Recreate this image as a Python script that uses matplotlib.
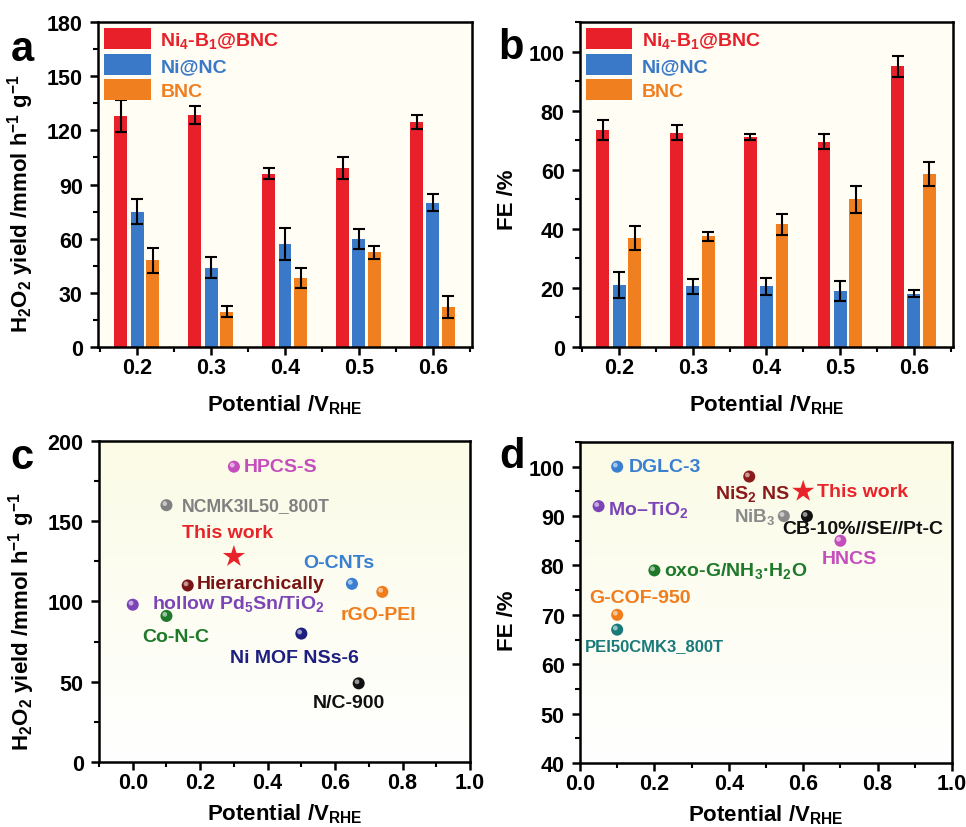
import numpy as np
import matplotlib
matplotlib.use("Agg")
import matplotlib.pyplot as plt
from matplotlib.ticker import MultipleLocator

plt.rcParams['font.family'] = ['Liberation Sans', 'DejaVu Sans']
plt.rcParams['font.weight'] = 'bold'
plt.rcParams['mathtext.fontset'] = 'custom'
plt.rcParams['mathtext.rm'] = 'Liberation Sans:bold'
plt.rcParams['mathtext.bf'] = 'Liberation Sans:bold'
plt.rcParams['mathtext.it'] = 'Liberation Sans:bold'

# ---- data: panels a and b
potentials = [0.2, 0.3, 0.4, 0.5, 0.6]
series_names = ['Ni$_4$-B$_1$@BNC', 'Ni@NC', 'BNC']
series_colors = ['#e8202a', '#3a78c8', '#f07f20']

yield_ni4b1 = [128, 128.5, 96, 99, 124.5]
yield_ni4b1_err = [9, 5, 3, 6, 4]
yield_ninc = [75, 44, 57, 60, 80]
yield_ninc_err = [7, 6, 9, 5.5, 4.5]
yield_bnc = [48, 19.5, 38, 52.5, 22]
yield_bnc_err = [7, 3, 5.5, 3.5, 6]

fe_ni4b1 = [73.5, 72.5, 71, 69.5, 95]
fe_ni4b1_err = [3.5, 2.5, 1, 2.5, 3.5]
fe_ninc = [21, 20.5, 20.5, 19, 18]
fe_ninc_err = [4.5, 2.5, 3, 3.5, 1.2]
fe_bnc = [37, 37.5, 41.5, 50, 58.5]
fe_bnc_err = [4, 1.5, 3.5, 4.5, 4]

# ---- data: panel c (yield comparison)
c_names = ['HPCS-S', 'NCMK3IL50_800T', 'O-CNTs', 'rGO-PEI', 'Hierarchically',
           'hollow Pd$_5$Sn/TiO$_2$', 'Co-N-C', 'Ni MOF NSs-6', 'N/C-900']
c_x = [0.3, 0.1, 0.65, 0.74, 0.163, 0.0, 0.1, 0.5, 0.67]
c_y = [184, 160, 111, 106, 110, 98, 91, 80, 49]
c_colors = ['#c44fbc', '#808080', '#3a7fd0', '#f07c1c', '#7a1414',
            '#7b45b8', '#1e7a2a', '#1e1e80', '#111111']
c_star = (0.3, 128)

# ---- data: panel d (FE comparison)
d_names = ['DGLC-3', 'Mo–TiO$_2$', 'NiS$_2$ NS', 'NiB$_3$', 'CB-10%//SE//Pt-C',
           'HNCS', 'oxo-G/NH$_3$·H$_2$O', 'G-COF-950', 'PEI50CMK3_800T']
d_x = [0.1, 0.05, 0.455, 0.548, 0.61, 0.7, 0.2, 0.1, 0.1]
d_y = [100, 92, 98, 90, 90, 85, 79, 70, 67]
d_colors = ['#3a7fd0', '#7b45b8', '#8b1a1a', '#8a8a8a', '#111111',
            '#c44fbc', '#1e7a2a', '#f07c1c', '#1a7a7a']
d_star = (0.6, 95)

# label placements (x, y, ha, fontsize)
c_lab = [(0.33, 184, 'left', 14), (0.146, 160, 'left', 12.7), (0.61, 124, 'center', 14),
         (0.73, 92, 'center', 14), (0.19, 111.5, 'left', 14), (0.057, 99, 'left', 14),
         (0.128, 78.5, 'center', 14), (0.48, 65, 'center', 14), (0.64, 37, 'center', 14)]
d_lab = [(0.13, 100, 'left', 14), (0.075, 91.5, 'left', 14), (0.565, 94.6, 'right', 14),
         (0.525, 90, 'right', 13.5), (0.543, 87.5, 'left', 14), (0.725, 81.4, 'center', 14),
         (0.225, 79, 'left', 14), (0.16, 73.5, 'center', 14), (0.2, 63.7, 'center', 12)]

fig = plt.figure(figsize=(9.66, 8.28), dpi=100)
ax_a = fig.add_axes([0.1015, 0.5797, 0.3871, 0.3925])
ax_b = fig.add_axes([0.6004, 0.5797, 0.3861, 0.3925])
ax_c = fig.add_axes([0.1025, 0.0785, 0.3840, 0.3877])
ax_d = fig.add_axes([0.6004, 0.0773, 0.3851, 0.3877])


def style(ax):
    for s in ax.spines.values():
        s.set_linewidth(1.8)
    ax.tick_params(which='major', direction='out', length=6, width=1.8, labelsize=15.5,
                   top=False, right=False)
    ax.tick_params(axis='x', which='major', pad=1.5)
    ax.tick_params(axis='y', which='major', pad=5)
    ax.tick_params(which='minor', direction='out', length=3.5, width=1.5,
                   top=False, right=False)
    for t in ax.get_xticklabels() + ax.get_yticklabels():
        t.set_fontweight('bold')


def gradient(ax, top_color, bottom_color):
    top = np.array(matplotlib.colors.to_rgb(top_color))
    bot = np.array(matplotlib.colors.to_rgb(bottom_color))
    f = np.linspace(0, 1, 256)[:, None]
    img = (top * (1 - f) + bot * f)[:, None, :]
    ax.imshow(img, extent=[0, 1, 0, 1], transform=ax.transAxes, aspect='auto', zorder=0)


def bar_panel(ax, vals, errs, ylim, major, minor, ylabel, ylab_y):
    x = np.array(potentials)
    w = 0.0175
    offs = [-0.022, 0.0, 0.021]
    for v, e, c, o, n in zip(vals, errs, series_colors, offs, series_names):
        ax.bar(x + o, v, width=w, color=c, label=n, zorder=2)
        ax.errorbar(x + o, v, yerr=e, fmt='none', ecolor='black', elinewidth=1.5,
                    capsize=4, capthick=1.5, zorder=3)
    ax.set_facecolor('#fffdf4')
    ax.set_xlim(0.147, 0.653)
    ax.set_ylim(*ylim)
    ax.set_xticks(potentials)
    ax.set_xticklabels(['%.1f' % p for p in potentials])
    ax.xaxis.set_minor_locator(MultipleLocator(0.05))
    ax.yaxis.set_major_locator(MultipleLocator(major))
    ax.yaxis.set_minor_locator(MultipleLocator(minor))
    ax.set_xlabel('Potential /V$_\\mathrm{RHE}$', fontsize=16, fontweight='bold', labelpad=10)
    ax.set_ylabel(ylabel, fontsize=16, fontweight='bold')
    ax.yaxis.set_label_coords(-0.165, ylab_y)
    leg = ax.legend(loc='upper left', frameon=False, fontsize=14, handlelength=2.4,
                    handleheight=1.3, handletextpad=0.5, labelspacing=0.2,
                    borderaxespad=0.2, borderpad=0.1)
    for t, c in zip(leg.get_texts(), series_colors):
        t.set_color(c)
        t.set_fontweight('bold')
    style(ax)


bar_panel(ax_a, [yield_ni4b1, yield_ninc, yield_bnc],
          [yield_ni4b1_err, yield_ninc_err, yield_bnc_err],
          (0, 180), 30, 15, 'H$_2$O$_2$ yield /mmol h$^{-1}$ g$^{-1}$', 0.445)
bar_panel(ax_b, [fe_ni4b1, fe_ninc, fe_bnc],
          [fe_ni4b1_err, fe_ninc_err, fe_bnc_err],
          (0, 110), 20, 10, 'FE /%', 0.455)


def scatter_panel(ax, xs, ys, cols, names, labs, star, star_lab, xlim, ylim, major, minor,
                  ylabel, ylab_y):
    gradient(ax, '#fbfbe6', '#ffffff')
    for x, y, c in zip(xs, ys, cols):
        ax.scatter(x, y, s=75, color=c, edgecolor='none', zorder=3)
        ax.scatter(x - 0.005, y + (ylim[1] - ylim[0]) * 0.005, s=12, color='white',
                   alpha=0.55, edgecolor='none', zorder=4)
    for (lx, ly, ha, fs), n, c in zip(labs, names, cols):
        ax.text(lx, ly, n, ha=ha, va='center', fontsize=fs, fontweight='bold', color=c,
                zorder=5)
    ax.scatter(star[0], star[1], marker='*', s=280, color='#e8242a', edgecolor='none',
               zorder=5)
    sx, sy, sha = star_lab
    ax.text(sx, sy, 'This work', ha=sha, va='center', fontsize=14, fontweight='bold',
            color='#e8242a', zorder=5)
    ax.set_xlim(*xlim)
    ax.set_ylim(*ylim)
    ax.set_xticks(np.arange(0, 1.01, 0.2))
    ax.set_xticklabels(['%.1f' % v for v in np.arange(0, 1.01, 0.2)])
    ax.xaxis.set_minor_locator(MultipleLocator(0.1))
    ax.yaxis.set_major_locator(MultipleLocator(major))
    ax.yaxis.set_minor_locator(MultipleLocator(minor))
    ax.set_xlabel('Potential /V$_\\mathrm{RHE}$', fontsize=16, fontweight='bold', labelpad=6)
    ax.set_ylabel(ylabel, fontsize=16, fontweight='bold')
    ax.yaxis.set_label_coords(-0.166, ylab_y)
    style(ax)


scatter_panel(ax_c, c_x, c_y, c_colors, c_names, c_lab, c_star, (0.28, 143, 'center'),
              (-0.1, 1.0), (0, 200), 50, 25, 'H$_2$O$_2$ yield /mmol h$^{-1}$ g$^{-1}$',
              0.44)
scatter_panel(ax_d, d_x, d_y, d_colors, d_names, d_lab, d_star, (0.637, 95, 'left'),
              (0.0, 1.0), (40, 105), 10, 5, 'FE /%', 0.445)

letter_pos = [(-0.203, 0.917), (-0.185, 0.923), (-0.207, 0.95), (-0.183, 0.955)]
for ax, letter, (lx, ly) in zip([ax_a, ax_b, ax_c, ax_d], ['a', 'b', 'c', 'd'], letter_pos):
    ax.text(lx, ly, letter, transform=ax.transAxes, fontsize=30, fontweight='bold',
            ha='center', va='center')

fig.savefig('out.png', dpi=100)
